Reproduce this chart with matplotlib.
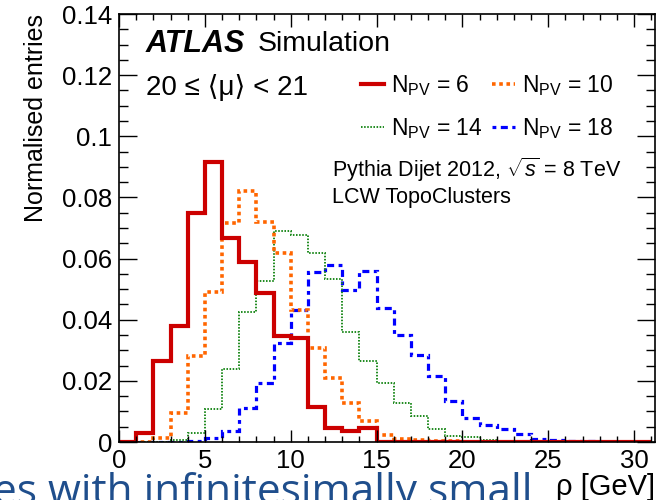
import numpy as np
import matplotlib
matplotlib.use("Agg")
import matplotlib.pyplot as plt
from matplotlib.lines import Line2D
from matplotlib.ticker import MultipleLocator

plt.rcParams['font.family'] = ['Liberation Sans', 'DejaVu Sans']
plt.rcParams['mathtext.fontset'] = 'custom'
plt.rcParams['mathtext.rm'] = 'Liberation Sans'
plt.rcParams['mathtext.it'] = 'Liberation Sans:italic'
plt.rcParams['mathtext.bf'] = 'Liberation Sans:bold'

# bin edges in rho [GeV], 1 GeV bins
edges = np.arange(0, 32, 1)

# normalised entries per bin
npv6 = [0, 0.003, 0.0266, 0.038, 0.075, 0.0917, 0.0666, 0.059, 0.0486, 0.0347,
        0.034, 0.0116, 0.0047, 0.0036, 0.0047, 0, 0, 0, 0, 0,
        0, 0, 0, 0, 0, 0, 0, 0, 0, 0, 0]
npv10 = [0, 0, 0.0014, 0.0094, 0.0281, 0.0492, 0.0715, 0.0822, 0.072, 0.0619,
         0.0432, 0.0306, 0.0208, 0.0128, 0.0069, 0.0023, 0.0009, 0.0006, 0.0003, 0.0002,
         0.0001, 0, 0, 0, 0, 0, 0, 0, 0, 0, 0]
npv14 = [0, 0, 0, 0.0005, 0.0028, 0.0107, 0.0238, 0.0426, 0.0527, 0.0691,
         0.0677, 0.0617, 0.0532, 0.0361, 0.0266, 0.0192, 0.0128, 0.0085, 0.0042, 0.0018,
         0.0015, 0.0006, 0.0003, 0.0002, 0.0001, 0, 0, 0, 0, 0, 0]
npv18 = [0, 0, 0, 0, 0.0003, 0.0012, 0.0037, 0.0112, 0.0194, 0.0325,
         0.0432, 0.0557, 0.0579, 0.0497, 0.0559, 0.0437, 0.035, 0.0283, 0.0216, 0.0135,
         0.008, 0.0055, 0.0044, 0.0025, 0.001, 0.0005, 0.0003, 0.0002, 0.0001, 0.0001, 0.0001]

labels = [r'N$_{\mathrm{PV}}$ = 6', r'N$_{\mathrm{PV}}$ = 10',
          r'N$_{\mathrm{PV}}$ = 14', r'N$_{\mathrm{PV}}$ = 18']
ytick_labels = ['0', '0.02', '0.04', '0.06', '0.08', '0.1', '0.12', '0.14']

fig = plt.figure(figsize=(6.58, 5.0), dpi=100)
ax = fig.add_axes([0.181, 0.116, 0.814, 0.856])

styles = [
    dict(color='#CC0000', lw=3.0, linestyle='-'),
    dict(color='#FF6600', lw=2.6, linestyle=(0, (1, 1))),
    dict(color='#1E8A1E', lw=1.4, linestyle=(0, (0.8, 0.8))),
    dict(color='#0000FF', lw=2.3, linestyle=(0, (1.2, 1.4, 2.2, 1.4))),
]
series = [npv6, npv10, npv14, npv18]

# draw from high to low so the red one sits on top
for vals, st in reversed(list(zip(series, styles))):
    ax.stairs(vals, edges, baseline=None, **st)

ax.set_xlim(0, 31.2)
ax.set_ylim(0, 0.14)
ax.xaxis.set_major_locator(MultipleLocator(5))
ax.xaxis.set_minor_locator(MultipleLocator(1))
ax.yaxis.set_minor_locator(MultipleLocator(0.005))
ax.set_yticks(np.arange(0, 0.141, 0.02))
ax.set_yticklabels(ytick_labels)
ax.tick_params(axis='both', which='both', direction='in', top=True, right=True,
               labelsize=18.5, width=1.0)
ax.tick_params(axis='y', which='major', length=13, pad=5)
ax.tick_params(axis='y', which='minor', length=6.5)
ax.tick_params(axis='x', which='major', length=9, pad=5)
ax.tick_params(axis='x', which='minor', length=4.5)
for sp in ax.spines.values():
    sp.set_linewidth(1.2)

ax.set_ylabel('Normalised entries', fontsize=18, loc='top', labelpad=10)
ax.set_xlabel('ρ [GeV]', fontsize=21, loc='right', labelpad=0)

ax.text(0.05, 0.93, 'ATLAS', transform=ax.transAxes, fontsize=22,
        fontweight='bold', fontstyle='italic', va='center')
ax.text(0.259, 0.93, 'Simulation', transform=ax.transAxes, fontsize=20.5, va='center')
ax.text(0.05, 0.829, '20 ≤ ⟨μ⟩ < 21', transform=ax.transAxes, fontsize=20, va='center')

# legend fills column by column, so order the entries to get 6,10 / 14,18 rows
order = [0, 2, 1, 3]
handles = [Line2D([], [], **styles[i]) for i in order]
ax.legend(handles, [labels[i] for i in order], ncol=2, loc='upper left',
          bbox_to_anchor=(0.435, 0.884), frameon=False, fontsize=16.5,
          handlelength=1.0, handletextpad=0.28, columnspacing=0.45,
          labelspacing=0.8, borderaxespad=0)

ax.text(0.398, 0.636, r'Pythia Dijet 2012, $\sqrt{s}$ = 8 TeV', transform=ax.transAxes,
        fontsize=15.5, va='center')
ax.text(0.398, 0.572, 'LCW TopoClusters', transform=ax.transAxes, fontsize=15.5, va='center')

# slide text cut off at the bottom edge
fig.text(-0.01, -0.007, 'es with infinitesimally small', fontsize=30.5,
         color='#1F4E8C', family='Open Sans', va='baseline')

fig.savefig('out.png', dpi=100)
